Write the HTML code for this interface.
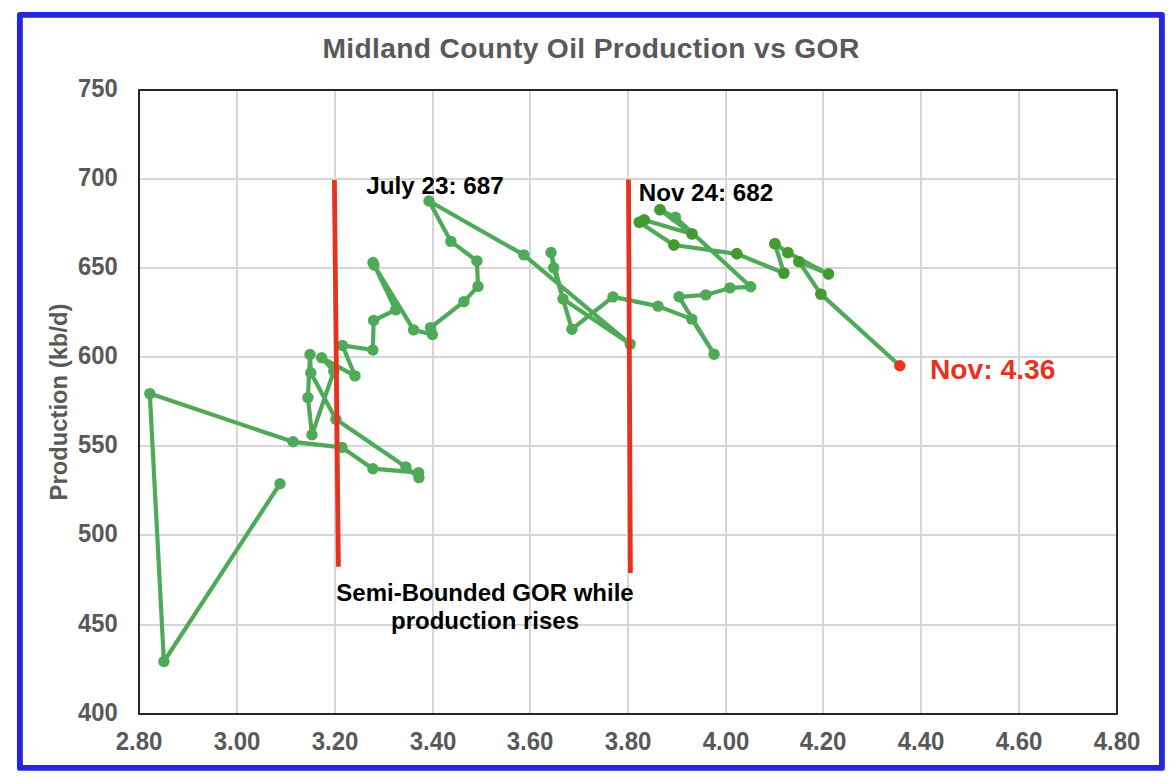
<!DOCTYPE html>
<html><head><meta charset="utf-8"><title>Midland County Oil Production vs GOR</title>
<style>
html,body{margin:0;padding:0;background:#fff;}
body{width:1176px;height:784px;overflow:hidden;}
svg{display:block;}
text{font-family:"Liberation Sans",Arial,Helvetica,sans-serif;font-weight:bold;}
</style></head><body>
<svg width="1176" height="784" viewBox="0 0 1176 784">
<rect x="0" y="0" width="1176" height="784" fill="#fff"/>
<rect x="19.9" y="14.9" width="1142" height="753" fill="none" stroke-linejoin="round" stroke="#2226DD" stroke-width="5.9"/>
<text x="591" y="57.7" text-anchor="middle" font-size="28.2" letter-spacing="0.35" fill="#595959">Midland County Oil Production vs GOR</text>
<path d="M237 90V714M335 90V714M433 90V714M530 90V714M628 90V714M726 90V714M823 90V714M921 90V714M1019 90V714M139 625H1117M139 535H1117M139 446H1117M139 357H1117M139 268H1117M139 179H1117" stroke="#D6D6D6" stroke-width="2" fill="none"/>
<rect x="139" y="90" width="978" height="624" fill="none" stroke="#262626" stroke-linejoin="round" stroke-width="2"/>
<text transform="translate(117.6 720.9) scale(0.955 1)" text-anchor="end" font-size="24.9" fill="#595959">400</text>
<text transform="translate(117.6 631.9) scale(0.955 1)" text-anchor="end" font-size="24.9" fill="#595959">450</text>
<text transform="translate(117.6 541.9) scale(0.955 1)" text-anchor="end" font-size="24.9" fill="#595959">500</text>
<text transform="translate(117.6 452.9) scale(0.955 1)" text-anchor="end" font-size="24.9" fill="#595959">550</text>
<text transform="translate(117.6 363.9) scale(0.955 1)" text-anchor="end" font-size="24.9" fill="#595959">600</text>
<text transform="translate(117.6 274.9) scale(0.955 1)" text-anchor="end" font-size="24.9" fill="#595959">650</text>
<text transform="translate(117.6 185.9) scale(0.955 1)" text-anchor="end" font-size="24.9" fill="#595959">700</text>
<text transform="translate(117.6 96.9) scale(0.955 1)" text-anchor="end" font-size="24.9" fill="#595959">750</text>
<text transform="translate(139.1 750) scale(0.965 1)" text-anchor="middle" font-size="24.9" fill="#595959">2.80</text>
<text transform="translate(237.1 750) scale(0.965 1)" text-anchor="middle" font-size="24.9" fill="#595959">3.00</text>
<text transform="translate(335.1 750) scale(0.965 1)" text-anchor="middle" font-size="24.9" fill="#595959">3.20</text>
<text transform="translate(433.1 750) scale(0.965 1)" text-anchor="middle" font-size="24.9" fill="#595959">3.40</text>
<text transform="translate(530.1 750) scale(0.965 1)" text-anchor="middle" font-size="24.9" fill="#595959">3.60</text>
<text transform="translate(628.1 750) scale(0.965 1)" text-anchor="middle" font-size="24.9" fill="#595959">3.80</text>
<text transform="translate(726.1 750) scale(0.965 1)" text-anchor="middle" font-size="24.9" fill="#595959">4.00</text>
<text transform="translate(823.1 750) scale(0.965 1)" text-anchor="middle" font-size="24.9" fill="#595959">4.20</text>
<text transform="translate(921.1 750) scale(0.965 1)" text-anchor="middle" font-size="24.9" fill="#595959">4.40</text>
<text transform="translate(1019.1 750) scale(0.965 1)" text-anchor="middle" font-size="24.9" fill="#595959">4.60</text>
<text transform="translate(1117.1 750) scale(0.965 1)" text-anchor="middle" font-size="24.9" fill="#595959">4.80</text>
<text transform="translate(67 402) rotate(-90)" text-anchor="middle" font-size="23.8" fill="#595959">Production (kb/d)</text>
<path d="M280 483.8 L163.9 661.5 L149.8 393.6 L293 441.8 L341.9 447.4 L372.9 468.7 L418.6 472.6 L418.9 477.6 L405.9 467 L335.9 419.3 L310.8 372.8 L310 354.5 L307.9 397.6 L312 434.8 L333.8 371.2 L321.6 357.7 L355 375.9 L342.4 345.4 L372.9 350 L373.6 320.5 L395.7 309.9 L373 262.5 L374 265 L413.6 329.9 L432.4 334.5 L430.6 327.6 L463.9 301.6 L478 286.4 L476.9 260.9 L450.9 241.4 L429 201 L523.8 254.9 L630.2 344.1 L563 298.9 L551 252.5 L553.7 267.7 L571.9 329.2 L613 296.9 L658 306.1 L691.8 319.1 L714.1 354.2 L679 296.8 L705.8 294.9 L730 287.9 L750.6 286.8 L675.4 217.3 L660 209.8 L692 233.9 L644.2 220 L639.3 222.2 L673.9 245 L736.8 253.8 L783.9 273.1 L774.9 243.8 L787.8 252.6 L828.5 274 L798.9 261.6 L820.9 294.1 L899.8 365.8" stroke="#4EAA58" stroke-width="4.2" fill="none" stroke-linejoin="round" stroke-linecap="round"/>
<circle cx="280" cy="483.8" r="5.7" fill="#4EAA58"/>
<circle cx="163.9" cy="661.5" r="5.7" fill="#4EAA58"/>
<circle cx="149.8" cy="393.6" r="5.7" fill="#4EAA58"/>
<circle cx="293" cy="441.8" r="5.7" fill="#4EAA58"/>
<circle cx="341.9" cy="447.4" r="5.7" fill="#4EAA58"/>
<circle cx="372.9" cy="468.7" r="5.7" fill="#4EAA58"/>
<circle cx="418.6" cy="472.6" r="5.7" fill="#4EAA58"/>
<circle cx="418.9" cy="477.6" r="5.7" fill="#4EAA58"/>
<circle cx="405.9" cy="467" r="5.7" fill="#4EAA58"/>
<circle cx="335.9" cy="419.3" r="5.7" fill="#4EAA58"/>
<circle cx="310.8" cy="372.8" r="5.7" fill="#4EAA58"/>
<circle cx="310" cy="354.5" r="5.7" fill="#4EAA58"/>
<circle cx="307.9" cy="397.6" r="5.7" fill="#4EAA58"/>
<circle cx="312" cy="434.8" r="5.7" fill="#4EAA58"/>
<circle cx="333.8" cy="371.2" r="5.7" fill="#4EAA58"/>
<circle cx="321.6" cy="357.7" r="5.7" fill="#4EAA58"/>
<circle cx="355" cy="375.9" r="5.7" fill="#4EAA58"/>
<circle cx="342.4" cy="345.4" r="5.7" fill="#4EAA58"/>
<circle cx="372.9" cy="350" r="5.7" fill="#4EAA58"/>
<circle cx="373.6" cy="320.5" r="5.7" fill="#4EAA58"/>
<circle cx="395.7" cy="309.9" r="5.7" fill="#4EAA58"/>
<circle cx="373" cy="262.5" r="5.7" fill="#4EAA58"/>
<circle cx="374" cy="265" r="5.7" fill="#4EAA58"/>
<circle cx="413.6" cy="329.9" r="5.7" fill="#4EAA58"/>
<circle cx="432.4" cy="334.5" r="5.7" fill="#4EAA58"/>
<circle cx="430.6" cy="327.6" r="5.7" fill="#4EAA58"/>
<circle cx="463.9" cy="301.6" r="5.7" fill="#4EAA58"/>
<circle cx="478" cy="286.4" r="5.7" fill="#4EAA58"/>
<circle cx="476.9" cy="260.9" r="5.7" fill="#4EAA58"/>
<circle cx="450.9" cy="241.4" r="5.7" fill="#4EAA58"/>
<circle cx="429" cy="201" r="5.7" fill="#4EAA58"/>
<circle cx="523.8" cy="254.9" r="5.7" fill="#4EAA58"/>
<circle cx="630.2" cy="344.1" r="5.7" fill="#4EAA58"/>
<circle cx="563" cy="298.9" r="5.7" fill="#4EAA58"/>
<circle cx="551" cy="252.5" r="5.7" fill="#4EAA58"/>
<circle cx="553.7" cy="267.7" r="5.7" fill="#4EAA58"/>
<circle cx="571.9" cy="329.2" r="5.7" fill="#4EAA58"/>
<circle cx="613" cy="296.9" r="5.7" fill="#4EAA58"/>
<circle cx="658" cy="306.1" r="5.7" fill="#4EAA58"/>
<circle cx="691.8" cy="319.1" r="5.7" fill="#4EAA58"/>
<circle cx="714.1" cy="354.2" r="5.7" fill="#4EAA58"/>
<circle cx="679" cy="296.8" r="5.7" fill="#4EAA58"/>
<circle cx="705.8" cy="294.9" r="5.7" fill="#4EAA58"/>
<circle cx="730" cy="287.9" r="5.7" fill="#4EAA58"/>
<circle cx="750.6" cy="286.8" r="5.7" fill="#4EAA58"/>
<circle cx="675.4" cy="217.3" r="5.7" fill="#4EAA58"/>
<circle cx="660" cy="209.8" r="5.7" fill="#4EAA58"/>
<circle cx="692" cy="233.9" r="5.7" fill="#4EAA58"/>
<circle cx="644.2" cy="220" r="5.7" fill="#4EAA58"/>
<circle cx="639.3" cy="222.2" r="5.7" fill="#4EAA58"/>
<circle cx="673.9" cy="245" r="5.7" fill="#4EAA58"/>
<circle cx="736.8" cy="253.8" r="5.7" fill="#4EAA58"/>
<circle cx="783.9" cy="273.1" r="5.7" fill="#4EAA58"/>
<circle cx="774.9" cy="243.8" r="5.7" fill="#4EAA58"/>
<circle cx="787.8" cy="252.6" r="5.7" fill="#4EAA58"/>
<circle cx="828.5" cy="274" r="5.7" fill="#4EAA58"/>
<circle cx="798.9" cy="261.6" r="5.7" fill="#4EAA58"/>
<circle cx="820.9" cy="294.1" r="5.7" fill="#4EAA58"/>
<circle cx="660" cy="209.8" r="5.7" fill="#449A30"/>
<circle cx="692" cy="233.9" r="5.7" fill="#449A30"/>
<circle cx="644.2" cy="220" r="5.7" fill="#449A30"/>
<circle cx="639.3" cy="222.2" r="5.7" fill="#449A30"/>
<circle cx="673.9" cy="245" r="5.7" fill="#449A30"/>
<circle cx="736.8" cy="253.8" r="5.7" fill="#449A30"/>
<circle cx="783.9" cy="273.1" r="5.7" fill="#449A30"/>
<circle cx="774.9" cy="243.8" r="5.7" fill="#449A30"/>
<circle cx="787.8" cy="252.6" r="5.7" fill="#449A30"/>
<circle cx="828.5" cy="274" r="5.7" fill="#449A30"/>
<circle cx="798.9" cy="261.6" r="5.7" fill="#449A30"/>
<circle cx="820.9" cy="294.1" r="5.7" fill="#449A30"/>
<circle cx="899.8" cy="365.8" r="5.7" fill="#E8321F"/>
<path d="M334.4 180 L338.4 566.8 M628.5 179.5 L630.4 573" stroke="#E8321F" stroke-width="4.8" fill="none"/>
<text x="366.3" y="194" font-size="24.25" fill="#000">July 23: 687</text>
<text x="638.7" y="200.6" font-size="24.2" fill="#000">Nov 24: 682</text>
<text x="485" y="600.9" text-anchor="middle" font-size="24" fill="#000">Semi-Bounded GOR while</text>
<text x="485" y="628.7" text-anchor="middle" font-size="24" fill="#000">production rises</text>
<text x="930" y="379.4" font-size="28.2" fill="#E8321F">Nov: 4.36</text>
</svg>
</body></html>
